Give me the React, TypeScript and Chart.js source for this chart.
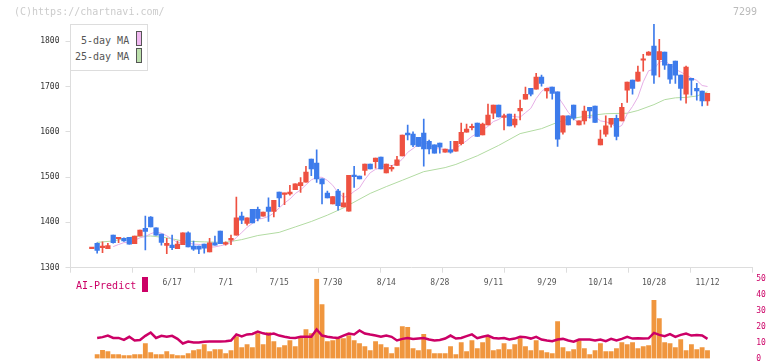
import React, { useEffect, useRef } from 'react';
import { Chart, registerables } from 'chart.js';

Chart.register(...registerables);

// ---------- data ----------
const opens = [
  1342, 1354, 1344, 1342, 1372, 1364, 1365, 1367, 1353, 1370,
  1387, 1412, 1388, 1374, 1349, 1350, 1342, 1351, 1377, 1348,
  1348, 1352, 1335, 1355, 1381, 1352, 1361, 1372, 1414, 1398,
  1429, 1429, 1414, 1434, 1424, 1467, 1462, 1463, 1472, 1481,
  1489, 1540, 1531, 1496, 1465, 1441, 1469, 1434, 1425, 1504,
  1502, 1515, 1529, 1534, 1544, 1509, 1518, 1526, 1547, 1597,
  1595, 1588, 1597, 1579, 1571, 1575, 1555, 1560, 1557, 1574,
  1599, 1609, 1619, 1593, 1615, 1641, 1659, 1632, 1639, 1615,
  1646, 1672, 1696, 1694, 1721, 1690, 1699, 1688, 1599, 1635,
  1659, 1615, 1624, 1654, 1657, 1571, 1595, 1617, 1630, 1624,
  1692, 1714, 1712, 1758, 1769, 1789, 1759, 1776, 1749, 1756,
  1725, 1683, 1718, 1696, 1690, 1668,
];
const highs = [
  1343, 1355, 1357, 1354, 1372, 1366, 1366, 1367, 1370, 1383,
  1414, 1413, 1388, 1374, 1365, 1372, 1359, 1377, 1379, 1359,
  1348, 1352, 1365, 1370, 1381, 1357, 1372, 1456, 1423, 1410,
  1429, 1434, 1423, 1454, 1449, 1467, 1465, 1482, 1485, 1499,
  1524, 1540, 1560, 1496, 1469, 1457, 1473, 1465, 1504, 1524,
  1502, 1529, 1529, 1542, 1544, 1529, 1526, 1546, 1593, 1615,
  1600, 1588, 1628, 1582, 1571, 1575, 1562, 1579, 1579, 1619,
  1617, 1617, 1619, 1619, 1661, 1659, 1659, 1639, 1639, 1639,
  1670, 1699, 1696, 1729, 1725, 1696, 1699, 1688, 1635, 1635,
  1659, 1624, 1657, 1654, 1657, 1604, 1635, 1630, 1637, 1663,
  1710, 1714, 1745, 1771, 1777, 1837, 1804, 1776, 1749, 1756,
  1725, 1745, 1718, 1707, 1690, 1685,
];
const lows = [
  1342, 1332, 1333, 1342, 1354, 1355, 1358, 1352, 1353, 1370,
  1339, 1390, 1372, 1350, 1331, 1340, 1342, 1351, 1346, 1338,
  1331, 1332, 1335, 1350, 1353, 1350, 1351, 1372, 1397, 1394,
  1399, 1403, 1414, 1402, 1412, 1435, 1439, 1460, 1472, 1466,
  1489, 1503, 1488, 1441, 1454, 1441, 1427, 1434, 1425, 1477,
  1496, 1504, 1518, 1520, 1518, 1509, 1513, 1526, 1547, 1582,
  1567, 1568, 1524, 1551, 1553, 1553, 1555, 1553, 1557, 1571,
  1599, 1604, 1590, 1593, 1615, 1629, 1633, 1604, 1613, 1610,
  1626, 1672, 1679, 1694, 1701, 1674, 1672, 1568, 1595, 1615,
  1626, 1615, 1617, 1630, 1621, 1571, 1590, 1610, 1582, 1624,
  1665, 1683, 1712, 1734, 1769, 1707, 1721, 1738, 1707, 1707,
  1670, 1663, 1681, 1670, 1657, 1658,
];
const closes = [
  1343, 1338, 1348, 1349, 1355, 1366, 1359, 1352, 1370, 1383,
  1380, 1390, 1372, 1356, 1354, 1344, 1352, 1377, 1346, 1341,
  1341, 1343, 1355, 1350, 1353, 1355, 1365, 1410, 1405, 1410,
  1399, 1409, 1423, 1424, 1449, 1454, 1464, 1467, 1485, 1488,
  1511, 1518, 1496, 1485, 1454, 1457, 1437, 1443, 1504, 1501,
  1496, 1529, 1518, 1542, 1518, 1529, 1520, 1538, 1593, 1593,
  1571, 1568, 1562, 1562, 1553, 1566, 1562, 1555, 1579, 1599,
  1606, 1610, 1590, 1617, 1637, 1659, 1633, 1635, 1613, 1628,
  1652, 1683, 1683, 1721, 1707, 1696, 1685, 1584, 1635, 1615,
  1630, 1624, 1646, 1646, 1621, 1584, 1613, 1630, 1590, 1654,
  1710, 1696, 1732, 1760, 1776, 1725, 1777, 1747, 1716, 1725,
  1696, 1743, 1714, 1690, 1668, 1685,
];
const volumes = [
  0, 2.5, 5.2, 4.3, 2.5, 2.5, 1.8, 1.8, 2.5, 2.5,
  9.4, 3.7, 2.5, 2.5, 4.3, 2.5, 1.8, 1.8, 3.1, 5.0,
  5.6, 8.7, 4.3, 5.6, 5.6, 3.1, 5.0, 13.8, 6.9, 8.7,
  6.9, 15.7, 8.7, 16.3, 10.6, 6.9, 8.1, 11.3, 7.5, 13.8,
  18.2, 15.7, 49.8, 33.9, 10.6, 11.3, 12.5, 12.5, 14.4, 11.3,
  9.4, 7.5, 5.0, 10.6, 8.7, 6.9, 3.1, 6.9, 20.1, 19.5,
  6.2, 5.0, 15.1, 5.6, 3.1, 3.1, 3.1, 7.5, 2.5, 10.0,
  4.3, 11.3, 6.2, 10.0, 13.8, 5.0, 5.6, 9.4, 5.6, 8.7,
  12.5, 7.5, 5.0, 11.3, 5.0, 3.7, 3.1, 23.2, 6.9, 4.3,
  5.6, 11.3, 6.2, 2.5, 5.0, 9.4, 4.3, 4.3, 6.2, 10.0,
  8.7, 10.0, 6.2, 7.5, 8.1, 36.5, 25.1, 10.0, 9.4, 6.9,
  11.9, 5.0, 8.7, 5.6, 6.9, 5.0,
];
const aiPredict: (number | null)[] = [
  null, 12.9, 13.4, 14.4, 12.9, 12.9, 11.7, 13.6, 11.3, 11.6,
  14.2, 16.3, 12.9, 14.2, 13.6, 14.2, 12.3, 9.4, 10.6, 10.0,
  10.0, 10.5, 10.6, 10.6, 10.6, 10.8, 11.3, 15.1, 13.8, 15.1,
  15.4, 16.9, 15.8, 15.1, 15.7, 14.4, 13.6, 13.0, 12.9, 13.6,
  13.6, 13.6, 18.2, 14.4, 13.6, 13.2, 12.9, 14.4, 15.7, 15.1,
  17.6, 15.7, 15.0, 14.4, 13.6, 14.4, 13.6, 11.3, 12.3, 12.9,
  12.3, 12.6, 12.9, 11.9, 11.3, 11.6, 12.5, 14.4, 12.5, 12.9,
  14.0, 15.1, 12.7, 13.6, 14.4, 12.9, 12.5, 12.9, 11.9, 12.5,
  13.6, 13.4, 12.5, 13.6, 11.9, 11.3, 10.9, 11.9, 12.3, 11.3,
  10.6, 11.9, 11.9, 11.9, 11.3, 11.9, 10.9, 12.3, 11.3, 12.3,
  13.6, 12.5, 12.7, 12.5, 12.7, 16.1, 14.8, 14.0, 15.3, 13.6,
  14.8, 15.7, 14.4, 14.8, 14.4, 12.3,
];
// 25-day moving average, read at these candle indices
const ma25Index = [1, 4, 8, 11, 14, 17, 21, 25, 28, 31, 35, 38, 41, 44, 47, 52, 55, 58, 62, 66, 68, 72, 76, 80, 84, 87, 89, 93, 96, 100, 102, 105, 107, 109, 111, 113, 115];
const ma25Values = [1356, 1359, 1369, 1370, 1366, 1359, 1357, 1356, 1362, 1371, 1378, 1390, 1402, 1416, 1432, 1464, 1479, 1493, 1512, 1521, 1528, 1547, 1570, 1596, 1607, 1621, 1628, 1636, 1640, 1641, 1647, 1660, 1671, 1675, 1676, 1679, 1688];

const dateLabels = ['6/17', '7/1', '7/15', '7/30', '8/14', '8/28', '9/11', '9/29', '10/14', '10/28', '11/12'];
const dateLabelIndex = [15, 25, 35, 45, 55, 65, 75, 85, 95, 105, 115];
const priceTicks = [1300, 1400, 1500, 1600, 1700, 1800];
const aiTicks = [0, 10, 20, 30, 40, 50];

// ---------- layout / style ----------
const X_MIN = -3.98;
const X_MAX = 123.37;
const GRID_DIVISIONS = 11;
const MONO = '"DejaVu Sans Mono", monospace';
const RED = '#EE5141';
const BLUE = '#3D7BEB';
const PINK = '#E6AEE6';
const GREEN = '#B2DBA2';
const MAGENTA = '#CC0066';
const ORANGE = '#F0963E';
const AXIS = '#DDDDDD';

function gridTickValues(): number[] {
  const step = (X_MAX - X_MIN) / GRID_DIVISIONS;
  const out: number[] = [];
  for (let k = 0; k <= GRID_DIVISIONS; k++) out.push(X_MIN + k * step);
  return out;
}

function PriceChart() {
  const ref = useRef<HTMLCanvasElement>(null);
  useEffect(() => {
    const labelAt = new Map<number, string>();
    dateLabelIndex.forEach((idx, k) => labelAt.set(idx, dateLabels[k]));
    const allTicks = [...gridTickValues(), ...dateLabelIndex].sort((a, b) => a - b).map((v) => ({ value: v }));
    const colors = closes.map((c, i) => (c >= opens[i] ? RED : BLUE));
    const ma5: { x: number; y: number }[] = [];
    closes.forEach((_, i) => {
      if (i >= 4) {
        const s = closes.slice(i - 4, i + 1).reduce((a, b) => a + b, 0);
        ma5.push({ x: i, y: s / 5 });
      }
    });
    const ma25 = ma25Index.map((x, k) => ({ x, y: ma25Values[k] }));

    const chart = new Chart(ref.current as HTMLCanvasElement, {
      type: 'bar',
      data: {
        datasets: [
          {
            type: 'bar',
            label: 'body',
            data: opens.map((o, i) => ({ x: i, y: [o, closes[i]] })) as any,
            backgroundColor: colors,
            barThickness: 4.6,
            minBarLength: 1.5,
            grouped: false,
          } as any,
          {
            type: 'bar',
            label: 'wick',
            data: lows.map((l, i) => ({ x: i, y: [l, highs[i]] })) as any,
            backgroundColor: colors,
            barThickness: 1,
            grouped: false,
          } as any,
          {
            type: 'line',
            label: '5-day MA',
            data: ma5 as any,
            borderColor: PINK,
            borderWidth: 1,
            pointRadius: 0,
            tension: 0,
          } as any,
          {
            type: 'line',
            label: '25-day MA',
            data: ma25 as any,
            borderColor: GREEN,
            borderWidth: 1,
            pointRadius: 0,
            tension: 0,
          } as any,
        ],
      },
      options: {
        animation: false,
        responsive: false,
        devicePixelRatio: 1,
        layout: { padding: { left: 0, top: 24, right: 19.7, bottom: 0 } },
        plugins: { legend: { display: false }, tooltip: { enabled: false }, title: { display: false } },
        scales: {
          x: {
            type: 'linear',
            offset: false,
            min: X_MIN,
            max: X_MAX,
            afterBuildTicks: (s: any) => {
              s.ticks = allTicks.map((t) => ({ ...t }));
            },
            afterFit: (s: any) => {
              s.height = 32.3;
            },
            ticks: {
              autoSkip: false,
              maxRotation: 0,
              minRotation: 0,
              padding: 5,
              color: '#555',
              font: { family: MONO, size: 8 },
              callback: (v: any) => labelAt.get(Number(v)) ?? '',
            },
            grid: {
              offset: false,
              drawOnChartArea: false,
              tickLength: 5,
              color: AXIS,
              tickColor: (ctx: any) => (ctx.tick && labelAt.has(ctx.tick.value) ? 'rgba(0,0,0,0)' : AXIS),
            },
            border: { color: AXIS },
          } as any,
          y: {
            type: 'linear',
            min: 1300,
            max: 1838,
            afterBuildTicks: (s: any) => {
              s.ticks = priceTicks.map((v) => ({ value: v }));
            },
            afterFit: (s: any) => {
              s.width = 70.5;
            },
            ticks: {
              padding: 6,
              color: '#333',
              font: { family: MONO, size: 8 },
              callback: (v: any) => String(v),
            },
            grid: { drawOnChartArea: false, tickLength: 5, color: AXIS },
            border: { color: AXIS },
          } as any,
        },
      },
    });
    return () => chart.destroy();
  }, []);
  return (
    <canvas
      ref={ref}
      width={772}
      height={300}
      style={{ position: 'absolute', left: 0, top: 0, width: 772, height: 300 }}
    />
  );
}

function VolumeChart() {
  const ref = useRef<HTMLCanvasElement>(null);
  useEffect(() => {
    const ai = aiPredict
      .map((v, i) => (v === null ? null : { x: i, y: v }))
      .filter((p) => p !== null);
    const vol = volumes.map((v, i) => ({ x: i, y: v })).filter((p) => p.y > 0);
    const chart = new Chart(ref.current as HTMLCanvasElement, {
      type: 'bar',
      data: {
        datasets: [
          {
            type: 'line',
            label: 'AI-Predict',
            data: ai as any,
            borderColor: MAGENTA,
            borderWidth: 2.5,
            pointRadius: 0,
            tension: 0,
            yAxisID: 'y',
          } as any,
          {
            type: 'bar',
            label: 'volume',
            data: vol as any,
            backgroundColor: ORANGE,
            barThickness: 4.2,
            grouped: false,
            yAxisID: 'y',
          } as any,
        ],
      },
      options: {
        animation: false,
        responsive: false,
        devicePixelRatio: 1,
        layout: { padding: { left: 70.5, top: 8.5, right: 0, bottom: 11.5 } },
        plugins: { legend: { display: false }, tooltip: { enabled: false } },
        scales: {
          x: { type: 'linear', offset: false, min: X_MIN, max: X_MAX, display: false } as any,
          y: {
            type: 'linear',
            position: 'right',
            min: 0,
            max: 50,
            afterBuildTicks: (s: any) => {
              s.ticks = aiTicks.map((v) => ({ value: v }));
            },
            afterFit: (s: any) => {
              s.width = 19.7;
            },
            ticks: { padding: 4, color: MAGENTA, font: { family: MONO, size: 8 } },
            grid: { display: false, drawTicks: false },
            border: { display: false },
          } as any,
        },
      },
    });
    return () => chart.destroy();
  }, []);
  return (
    <canvas
      ref={ref}
      width={772}
      height={100}
      style={{ position: 'absolute', left: 0, top: 270, width: 772, height: 100 }}
    />
  );
}

const txt = (extra: React.CSSProperties): React.CSSProperties => ({
  position: 'absolute',
  fontFamily: MONO,
  fontSize: 10,
  lineHeight: '10px',
  whiteSpace: 'nowrap',
  zIndex: 2,
  ...extra,
});

export default function App() {
  return (
    <div
      style={{
        position: 'fixed',
        left: 0,
        top: 0,
        width: 772,
        height: 361,
        overflow: 'hidden',
        background: '#fff',
      }}
    >
      <PriceChart />
      <VolumeChart />
      <div style={txt({ left: 14, top: 7, color: '#cccccc' })}>(C)https://chartnavi.com/</div>
      <div style={txt({ left: 733, top: 7, color: '#bbbbbb' })}>7299</div>
      <div
        style={{
          position: 'absolute',
          left: 70,
          top: 24,
          width: 78,
          height: 47,
          boxSizing: 'border-box',
          border: '1px solid #dddddd',
          background: '#fff',
          zIndex: 1,
        }}
      />
      <div style={txt({ left: 81, top: 36, color: '#555' })}>5-day MA</div>
      <div style={txt({ left: 75, top: 52, color: '#555' })}>25-day MA</div>
      <div
        style={{
          position: 'absolute',
          left: 136,
          top: 31,
          width: 6,
          height: 15,
          boxSizing: 'border-box',
          border: '1px solid #555',
          background: '#F0B8F0',
          zIndex: 2,
        }}
      />
      <div
        style={{
          position: 'absolute',
          left: 136,
          top: 48,
          width: 6,
          height: 15,
          boxSizing: 'border-box',
          border: '1px solid #555',
          background: '#BCE0AC',
          zIndex: 2,
        }}
      />
      <div style={txt({ left: 76, top: 281, color: MAGENTA })}>AI-Predict</div>
      <div
        style={{ position: 'absolute', left: 142, top: 277, width: 6, height: 15, background: MAGENTA, zIndex: 2 }}
      />
    </div>
  );
}
